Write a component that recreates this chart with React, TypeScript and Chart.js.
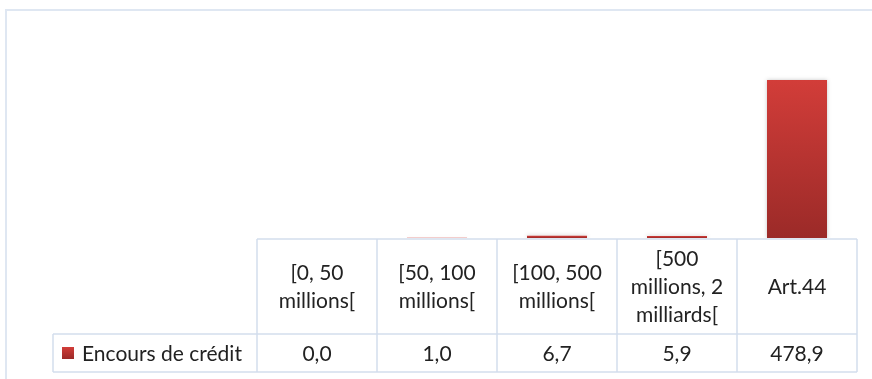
import React, { useEffect, useRef } from "react";
import { Chart, registerables } from "chart.js";

Chart.register(...registerables);

// Category labels (one entry per line of the header cell)
const categories: string[][] = [
  ["[0, 50", "millions["],
  ["[50, 100", "millions["],
  ["[100, 500", "millions["],
  ["[500", "millions, 2", "milliards["],
  ["Art.44"],
];

const seriesName = "Encours de crédit";
const seriesValues: number[] = [0.0, 1.0, 6.7, 5.9, 478.9];

const yMax = 600;

const FONT = "21px Lato, 'Open Sans', sans-serif";
const TEXT_COLOR = "#222222";
const GRID_COLOR = "#d3deed";
const BAR_TOP = "#d23d39";
const BAR_BOTTOM = "#9b2a28";

const fmt = (v: number) => v.toFixed(1).replace(".", ",");

// Data table drawn underneath the plot area, aligned with the category scale
const dataTablePlugin = {
  id: "dataTable",
  afterDraw(chart: any) {
    const { ctx, chartArea } = chart;
    const xs = chart.scales.x;
    const n = categories.length;
    const colW = (xs.right - xs.left) / n;
    const left = xs.left;
    const right = xs.right;
    const top = chartArea.bottom + 1;
    const headerBottom = top + 95;
    const rowBottom = headerBottom + 38;
    const rowLeft = 53;

    ctx.save();
    ctx.strokeStyle = GRID_COLOR;
    ctx.lineWidth = 1.5;
    ctx.beginPath();
    // horizontal lines
    ctx.moveTo(left, top);
    ctx.lineTo(right, top);
    ctx.moveTo(rowLeft, headerBottom);
    ctx.lineTo(right, headerBottom);
    ctx.moveTo(rowLeft, rowBottom);
    ctx.lineTo(right, rowBottom);
    // vertical lines
    for (let i = 0; i <= n; i++) {
      const x = left + i * colW;
      ctx.moveTo(x, top);
      ctx.lineTo(x, rowBottom);
    }
    ctx.moveTo(rowLeft, headerBottom);
    ctx.lineTo(rowLeft, rowBottom);
    ctx.stroke();

    ctx.fillStyle = TEXT_COLOR;
    ctx.font = FONT;
    ctx.textAlign = "center";
    ctx.textBaseline = "middle";
    const lineH = 28;
    const headerMid = (top + headerBottom) / 2;
    categories.forEach((lines, i) => {
      const cx = xs.getPixelForValue(i);
      const y0 = headerMid - ((lines.length - 1) * lineH) / 2;
      lines.forEach((t, k) => ctx.fillText(t, cx, y0 + k * lineH + 1));
    });

    const rowMid = (headerBottom + rowBottom) / 2;
    seriesValues.forEach((v, i) => {
      ctx.fillText(fmt(v), xs.getPixelForValue(i), rowMid + 1);
    });

    // legend key + series name
    const keyX = rowLeft + 9;
    const keyS = 12;
    const g = ctx.createLinearGradient(0, rowMid - keyS / 2, 0, rowMid + keyS / 2);
    g.addColorStop(0, BAR_TOP);
    g.addColorStop(1, BAR_BOTTOM);
    ctx.fillStyle = g;
    ctx.fillRect(keyX, rowMid - keyS / 2, keyS, keyS);
    ctx.fillStyle = TEXT_COLOR;
    ctx.textAlign = "left";
    ctx.fillText(seriesName, keyX + keyS + 8, rowMid + 1);
    ctx.restore();
  },
};

// Soft shadow behind the bars
const barShadowPlugin = {
  id: "barShadow",
  beforeDatasetsDraw(chart: any) {
    const ctx = chart.ctx;
    ctx.save();
    ctx.shadowColor = "rgba(0,0,0,0.22)";
    ctx.shadowBlur = 4;
    ctx.shadowOffsetX = 0;
    ctx.shadowOffsetY = 0;
  },
  afterDatasetsDraw(chart: any) {
    chart.ctx.restore();
  },
};

export default function App() {
  const canvasRef = useRef<HTMLCanvasElement | null>(null);

  useEffect(() => {
    if (!canvasRef.current) return;
    const chart = new Chart(canvasRef.current, {
      type: "bar",
      data: {
        labels: categories,
        datasets: [
          {
            label: seriesName,
            data: seriesValues,
            backgroundColor: (c: any) => {
              const ch = c.chart;
              if (!ch.chartArea || c.raw == null) return BAR_TOP;
              const ys = ch.scales.y;
              const yTop = ys.getPixelForValue(c.raw as number);
              const yBase = ys.getPixelForValue(0);
              if (yBase - yTop < 1) return BAR_TOP;
              const g = ch.ctx.createLinearGradient(0, yTop, 0, yBase);
              g.addColorStop(0, BAR_TOP);
              g.addColorStop(1, BAR_BOTTOM);
              return g;
            },
            borderWidth: 0,
            categoryPercentage: 1,
            barPercentage: 0.5,
          },
        ],
      },
      options: {
        responsive: false,
        animation: false,
        layout: { padding: { left: 257, right: 15, top: 40, bottom: 141 } },
        plugins: { legend: { display: false }, tooltip: { enabled: false } },
        scales: {
          x: { display: false },
          y: { display: false, min: 0, max: yMax },
        },
      },
      plugins: [barShadowPlugin, dataTablePlugin],
    });
    return () => chart.destroy();
  }, []);

  return (
    <div
      style={{
        position: "fixed",
        left: 0,
        top: 0,
        width: 872,
        height: 379,
        background: "#ffffff",
        overflow: "hidden",
      }}
    >
      <div
        style={{
          position: "absolute",
          left: 5,
          top: 9,
          width: 900,
          height: 400,
          borderLeft: "2px solid #dfe7f2",
          borderTop: "2px solid #dfe7f2",
        }}
      />
      <canvas
        ref={canvasRef}
        width={872}
        height={379}
        style={{ position: "absolute", left: 0, top: 0 }}
      />
    </div>
  );
}
